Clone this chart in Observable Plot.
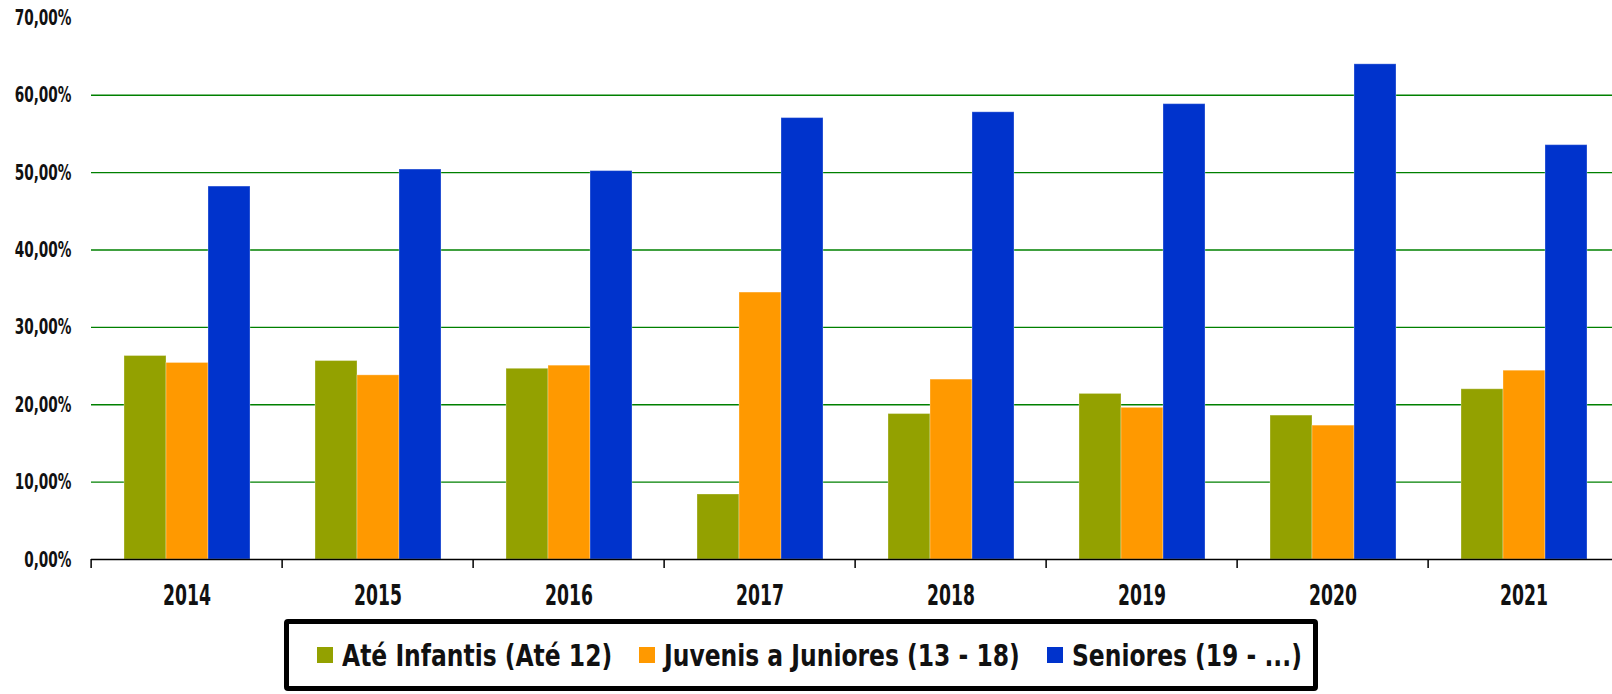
<!DOCTYPE html>
<html>
<head>
<meta charset="utf-8">
<script src="https://cdn.jsdelivr.net/npm/d3@7"></script>
<script src="https://cdn.jsdelivr.net/npm/@observablehq/plot@0.6"></script>
<style>
  html, body { margin: 0; padding: 0; background: #fff; overflow: hidden; width: 1612px; height: 694px; }
  #wrap { position: relative; width: 1612px; height: 694px; overflow: hidden; }
  #chart { position: absolute; left: -1px; top: 0; width: 1623px; }
  #chart svg { max-width: none !important; }
  #legend {
    position: absolute; left: 284px; top: 619px; width: 1034px; height: 72px;
    box-sizing: border-box; border: 5.5px solid #000; border-radius: 4px; padding-left: 16px;
    display: flex; align-items: center; justify-content: center; gap: 27px;
    font-family: "DejaVu Sans Condensed", "DejaVu Sans", sans-serif;
    font-weight: bold; font-size: 31px; color: #111;
  }
  .item { display: flex; align-items: center; gap: 9px; white-space: nowrap; }
  .sw { width: 16px; height: 16px; display: inline-block; }
  .lab { display: inline-block; transform-origin: left center; }
</style>
</head>
<body>
<div id="wrap">
  <div id="chart"></div>
  <div id="legend"></div>
</div>
<script>
// ---- data ----
const years = ["2014", "2015", "2016", "2017", "2018", "2019", "2020", "2021"];
const series = ["Até Infantis (Até 12)", "Juvenis a Juniores (13 - 18)", "Seniores (19 - ...)"];
const infantis = [26.3, 25.65, 24.65, 8.4, 18.8, 21.4, 18.6, 22.0];
const juvenis  = [25.4, 23.8, 25.05, 34.5, 23.25, 19.6, 17.3, 24.4];
const seniores = [48.2, 50.4, 50.2, 57.05, 57.8, 58.85, 64.0, 53.55];
const yTicks = [0, 10, 20, 30, 40, 50, 60, 70];
const gridTicks = [10, 20, 30, 40, 50, 60];
const colors = ["#93a100", "#ff9900", "#0033cc"];

const values = [infantis, juvenis, seniores];
const table = [];
years.forEach((yr, i) => series.forEach((s, j) => table.push({year: yr, series: s, value: values[j][i]})));

const W = 1623, H = 612, ML = 89, MR = 0, MT = 17.4, MB = 53;
const band = (W - ML - MR) / years.length;
const font = '"DejaVu Sans Condensed", "DejaVu Sans", sans-serif';

const plot = Plot.plot({
  width: W, height: H,
  marginLeft: ML, marginRight: MR, marginTop: MT, marginBottom: MB,
  style: {fontFamily: font, fontWeight: "bold", color: "#111", background: "white", maxWidth: "none"},
  fx: {domain: years, padding: 0, axis: null, label: null},
  x: {domain: series, paddingInner: 0, paddingOuter: 0.75, axis: null},
  y: {domain: [0, 70], axis: null},
  color: {domain: series, range: colors},
  marks: [
    Plot.gridY(gridTicks, {stroke: "#008000", strokeOpacity: 1, strokeWidth: 1.3}),
    Plot.barY(table, {fx: "year", x: "series", y: "value", fill: "series",
      stroke: "white", strokeOpacity: 0.3, strokeWidth: 1}),
    Plot.ruleY([0], {stroke: "#000", strokeWidth: 1.5}),
    Plot.axisY(yTicks, {anchor: "left", tickSize: 0, tickPadding: 20, fontSize: 22,
      tickFormat: d => d.toFixed(2).replace(".", ",") + "%", label: null}),
    Plot.axisFx({anchor: "bottom", tickSize: 0, tickPadding: 25, fontSize: 29, label: null}),
    Plot.axisFx({anchor: "bottom", tickSize: 9, tickFormat: () => "", dx: -band / 2,
      stroke: "#000", strokeWidth: 1.5, label: null})
  ]
});
document.getElementById("chart").appendChild(plot);

// condense tick labels horizontally around their anchors
plot.querySelectorAll("text").forEach(el => {
  const t = el.textContent.trim();
  let sx = null;
  if (/^\d{4}$/.test(t)) sx = 0.66;
  else if (/%$/.test(t)) sx = 0.69;
  if (sx == null) return;
  const x = +el.getAttribute("x") || 0, y = +el.getAttribute("y") || 0;
  const tr = el.getAttribute("transform") || "";
  el.setAttribute("transform", `${tr} translate(${x},${y}) scale(${sx},1) translate(${-x},${-y})`);
});

// legend
const legend = document.getElementById("legend");
const labs = [];
series.forEach((s, i) => {
  const item = document.createElement("div");
  item.className = "item";
  const sw = document.createElement("span");
  sw.className = "sw";
  sw.style.background = colors[i];
  const lab = document.createElement("span");
  lab.className = "lab";
  lab.textContent = s;
  item.appendChild(sw);
  item.appendChild(lab);
  legend.appendChild(item);
  labs.push(lab);
});
const sxL = 0.84;
labs.forEach(lab => {
  const w = lab.getBoundingClientRect().width;
  lab.style.transform = `scaleX(${sxL})`;
  lab.style.marginRight = `${-(1 - sxL) * w}px`;
});
</script>
</body>
</html>
